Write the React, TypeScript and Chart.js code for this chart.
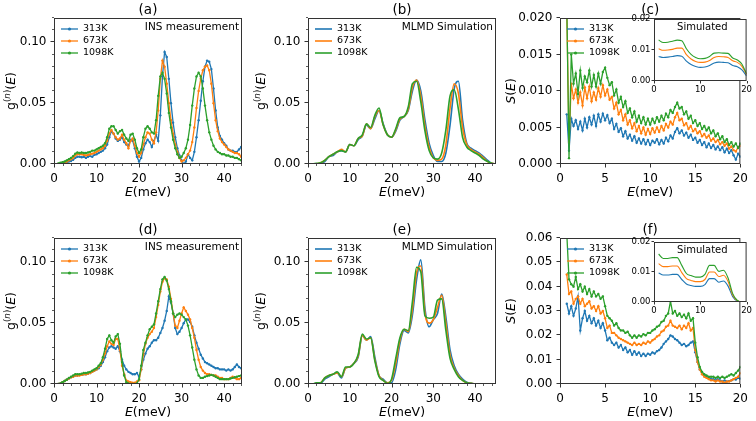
import React, { useEffect, useRef } from 'react';
import { Chart, registerables } from 'chart.js';
Chart.register(...registerables);

const W = 756, H = 421;
const FONT = '"DejaVu Sans", sans-serif';
const COLORS = ['#1f77b4', '#ff7f0e', '#2ca02c'];
const TEMPS = ['313K', '673K', '1098K'];

// energy grids (meV)
const gridINS = Array.from({ length: 88 }, (_, i) => 1 + 0.5 * i);
const gridSim = Array.from({ length: 46 }, (_, i) => i);
const gridSE = Array.from({ length: 78 }, (_, i) => 0.75 + 0.25 * i);
const gridInset = Array.from({ length: 20 }, (_, i) => 1 + i);

// tick values
const gTicksX = [0, 10, 20, 30, 40];
const gTicksY = [0, 0.05, 0.1];
const sTicksX = [0, 5, 10, 15, 20];
const sTicksYc = [0, 0.005, 0.01, 0.015, 0.02];
const sTicksYf = [0, 0.01, 0.02, 0.03, 0.04, 0.05, 0.06];
const insetTicksX = [0, 10, 20];
const insetTicksY = [0, 0.01, 0.02];

// ---- (a) INS measurement, values x1e-3, E = 1..44.5 step 0.5
const a313 = [0,0,0.5,1,1.5,2,2.5,3.5,5,6, 6,5.5,6,5,6,6.5,6,7.5,8,9, 10,11,13,16,22,27,25,21,19,20, 22,18,16,15,20,19,13,6,2,5,
  12,17,20,18,14,19,24,19,40,72, 92,88,70,50,34,22,13,7,3,0, 2,8,5,3,10,22,36,52,68,80, 85,84,78,62,44,30,23,20,17,15, 12,11,11,10,10,12,14,6];
const a673 = [0,0.5,1,1.5,2,3,4,5,7,8, 8,8,7.5,7,7.5,8,8.5,9,10,11, 12,13,15,19,25,28,25,22,20,21, 24,20,17,13,19,21,15,9,6,9,
  16,22,26,25,20,17,26,44,70,85, 80,66,50,36,25,16,10,5,2,3, 5,8,11,18,30,46,60,70,77,80, 81,77,66,50,36,27,21,18,16,14, 12,11,10,9,9,8,6,3];
const a1098 = [0.5,1,1.5,2,3,4,5,6.5,8.5,9.5, 9,9.5,9,9,9.5,10,11,11,12,13, 14,15,17,22,29,31,31,28,25,27, 28,24,21,19,24,25,20,13,9,12,
  22,29,31,29,26,25,36,56,72,75, 70,58,42,30,20,13,8,5,6,9, 13,20,32,48,62,72,75,72,62,48, 36,26,20,15,12,10,9,8,8,7, 7,6,6,5,5,4,3,2];

// ---- (b) MLMD simulation, values x1e-3, E = 0..45 step 1
const b313 = [0,0,0,0.5,2,6,7,10,11,10, 16,15,20,23,32,29,37,44,33,24, 22,27,36,39,44,60,69,60,36,17, 7,2,2,9,32,62,68,36,17,13, 11,9,6,3,0.5,0];
const b673 = [0,0,0,1,3,6,8,10,12,10, 16,15,21,23,33,29,39,44,32,24, 22,28,37,39,45,63,69,56,31,14, 5,3,4,16,46,66,58,30,16,12, 10,8,5,2,0.5,0];
const b1098 = [0,0,0.5,1,3,6,8,10,11,10, 16,15,21,24,33,30,40,46,32,24, 22,29,38,39,47,66,68,51,27,11, 5,4,9,28,56,61,45,22,14,11, 9,7,4,2,0.5,0];

// ---- (c) S(E), values x1e-3, E = 0.75..20 step 0.25
const c313 = [6.8,
  1.8,6.2,5.2,6.0, 4.8,5.8,4.6,6.2, 5.0,6.4,5.4,6.6, 5.2,6.8,5.8,6.9, 6.0,6.7,5.6,6.2,
  4.8,5.5,4.4,4.9, 3.8,4.5,3.5,4.0, 3.2,3.8,2.9,3.5, 2.8,3.4,2.7,3.3, 2.6,3.2,2.9,3.4,
  2.7,3.3,2.8,3.6, 3.1,3.9,3.5,4.4, 4.9,4.2,4.6,3.9, 4.3,3.6,4.0,3.3, 3.6,2.9,3.3,2.6,
  3.0,2.3,2.8,2.2, 2.6,2.0,2.4,1.9, 2.3,1.6,2.1,1.5, 1.9,1.2,0.6,1.4,
  1.0];
const c673 = [21,
  3.0,11.0,9.0,10.2, 8.4,9.8,8.0,10.5, 9.0,10.6,8.6,9.8, 8.8,10.4,9.2,10.8, 9.4,10.2,8.8,9.2,
  7.6,8.4,6.8,7.4, 6.0,6.8,5.4,6.0, 4.9,5.6,4.5,5.2, 4.2,5.0,4.0,4.8, 4.1,4.9,4.3,5.0,
  4.4,5.2,4.6,5.5, 5.0,5.8,5.4,6.4, 7.0,6.0,6.2,5.3, 5.6,4.8,5.2,4.5, 4.8,4.2,4.5,3.8,
  4.1,3.6,3.9,3.2, 3.5,3.0,3.3,2.7, 3.0,2.5,2.8,2.1, 2.4,1.9,1.7,2.3,
  2.5];
const c1098 = [22,
  0.8,15.0,11.0,12.4, 9.6,12.8,10.4,12.0, 11.2,12.8,10.6,12.2, 10.6,12.4,11.0,12.6, 13.2,11.8,10.8,11.2,
  9.4,10.2,8.4,9.2, 7.8,8.6,7.0,7.6, 6.4,7.2,5.8,6.6, 5.6,6.4,5.4,6.2, 5.4,6.2,5.6,6.4,
  5.8,6.6,6.0,6.9, 6.4,7.4,7.0,7.8, 8.4,7.6,7.8,6.8, 7.2,6.2,6.6,5.6, 6.0,5.2,5.6,4.8,
  5.2,4.6,5.0,4.2, 4.6,3.8,4.2,3.4, 3.8,3.0,3.4,2.6, 3.0,2.4,2.8,2.2,
  2.8];
// (c) inset, simulated, values x1e-3, E = 1..20
const ci313 = [7.9,7.6,7.7,7.9,8.2,8.0,6.4,5.3,4.7,4.4, 4.5,5.0,5.8,6.1,6.0,5.9,5.0,4.6,3.6,1.6];
const ci673 = [10.4,9.9,10.0,10.2,10.6,10.6,8.5,7.1,6.3,6.0, 6.1,6.6,7.6,7.9,7.8,7.6,6.5,6.0,4.7,2.0];
const ci1098 = [13.2,12.4,12.5,12.8,13.2,13.0,10.4,8.6,7.6,7.2, 7.3,7.9,9.0,9.1,9.0,8.9,7.4,6.8,5.4,2.3];

// ---- (d) INS measurement, values x1e-3, E = 1..44.5 step 0.5
const d313 = [0,0.5,1.5,2.5,3.5,4.5,5.5,6,7,7, 7.5,7.5,8,8,8.5,9,10,11,12,13, 15,18,22,27,30,31,30,29,31,27, 20,15,12,10,9,8,8,9,6,12,
  20,25,29,31,34,36,36,38,42,46, 52,60,72,67,58,46,41,43,46,50, 53,53,51,47,40,34,29,24,21,18, 17,16,15,14,13,13,12,12,12,11, 12,11,12,14,16,14,13,12];
const d673 = [0,0.5,1.5,2.5,3.5,4.5,5.5,6,7,7, 7,7.5,8,8,8.5,9,10,11,12,14, 16,20,25,31,35,33,32,37,37,28, 15,8,3,2,1.5,1,1,2,3,12,
  24,33,38,41,43,46,55,65,76,84, 87,86,80,70,58,48,46,52,58,63, 60,57,53,46,38,28,20,14,11,9, 8,8,7.5,7,7,6,5,5,4,4, 4,5,6,5,4,4,5,6];
const d1098 = [0,0.5,1.5,2.5,3.5,5,6,7,8,8, 8,8.5,9,9,9.5,10,11,12,13,15, 17,22,29,37,40,36,34,39,41,33, 18,7,1.5,0.5,0,0,0,0.5,4,15,
  28,34,40,45,47,49,58,68,78,86, 88,85,78,68,58,55,57,58,57,55, 53,48,40,30,20,12,7,5,5,6, 6.5,7,7.5,7,6,5,4,4,4,4, 4,4.5,5,5.5,6,6.5,7,6];

// ---- (e) MLMD simulation, values x1e-3, E = 0..45 step 1
const e313 = [0,0,0.5,0.5,4,6,8,9,5,13, 14,17,22,40,36,39,22,7,4,1, 1,12,33,44,42,57,86,102,62,47, 53,58,74,55,28,15,8,4,1.5,0.5, 0,0,0,0,0,0];
const e673 = [0,0,0.5,1,5,7,8,9,6,13, 14,17,23,40,36,38,20,7,3,1, 3,17,36,45,43,62,92,97,58,50, 53,63,73,50,24,13,7,3,1,0.5, 0,0,0,0,0,0];
const e1098 = [0,0,1,1,5,7,8,10,6,14, 14,17,24,41,37,38,19,6,3,0.5, 4,21,38,45,44,68,96,92,56,54, 55,69,70,44,21,12,6,3,1,0.5, 0,0,0,0,0,0];

// ---- (f) S(E), values x1e-3, E = 0.75..20 step 0.25
const f313 = [33,
  29,32,28,31, 36,22,27,30, 26,28,25,27, 24,26,23,25, 22,18,19,17,
  16,17,15,16, 14,15,13,14, 12,13.5,12,13, 11.5,12.5,11.5,12.5, 12,13,12.5,13.5,
  14,15,16.5,17.5, 18.5,20,19.5,18.5, 18,17,16,16.5, 15.5,16,17,17.5, 13,9,6,4.5,
  3.5,3,2.5,2, 2,1.5,2,1.5, 1,1.5,1,1.2, 1.5,2,1.8,2.5,
  2.2];
const f673 = [45,
  37,38,33,35, 36,33,35,32, 33,34,31,32, 30,32,29,30, 27,23,24,21,
  21,20,19,18.5, 18,17.5,17,16.5, 16,17,16,16.5, 16,17,16.5,17.5, 17,18,18.5,19.5,
  20,21.5,22,23.5, 24,26,24,23.5, 23,24,22.5,24, 23,25,22,23, 14,9,6,4,
  3,2.5,2,1.5, 1.5,1,1.5,1, 1,0.5,1,1, 1.5,2,2.5,3,
  4.5];
const f1098 = [62,
  43,41,40,44, 39,41,38,40, 37,39,36,38, 36,37,35,36, 32,28,27,26,
  24,25,23,22, 22,21,21.5,20, 19,20,19,20, 19.5,20.5,20,21, 21,22,22.5,23.5,
  24,25.5,26,28, 29,34,29,30, 28,29,27.5,28.5, 27,29,26,27, 17,11,7,5,
  4,3.5,3,3, 3,2.5,3,2.5, 3,2.5,3,3.5, 4,3.5,4.5,5.5,
  7];
// (f) inset, simulated, values x1e-3, E = 1..20
const fi313 = [9.7,9.0,9.0,9.2,9.2,7.5,6.0,5.5,5.2,5.2, 5.8,7.8,7.8,6.6,7.0,5.3,1.8,0.3,0,0];
const fi673 = [12.8,11.8,11.8,12.0,12.0,9.8,7.8,7.2,6.8,6.8, 7.5,10.0,10.0,8.5,8.9,6.8,2.3,0.4,0,0];
const fi1098 = [16.0,14.5,14.5,14.8,14.8,12.2,9.5,8.8,8.3,8.3, 9.2,12.2,12.2,10.2,10.6,8.0,2.8,0.5,0,0];

type Seg = { t: string; it?: boolean; sup?: boolean };
const G_LABEL: Seg[] = [{ t: 'g' }, { t: '(', sup: true }, { t: 'n', sup: true, it: true }, { t: ')', sup: true }, { t: '(' }, { t: 'E', it: true }, { t: ')' }];
const S_LABEL: Seg[] = [{ t: 'S', it: true }, { t: '(' }, { t: 'E', it: true }, { t: ')' }];
const X_LABEL: Seg[] = [{ t: 'E', it: true }, { t: '(meV)' }];

interface Cfg {
  area: number[]; x: number[]; y: number[]; xTicks: number[]; yTicks: number[]; yDec: number;
  xMinor?: number; yMinor?: number; xs: number[]; ys: number[][]; markers: boolean; smooth: boolean; lw: number;
  title?: string; note?: string; yLabel?: Seg[]; yLabelX?: number; legend: boolean; inset?: boolean; insetNote?: string;
}

const ALL: Cfg[] = [
  { area: [54, 18, 242, 164], x: [0, 44.2], y: [0, 0.12], xTicks: gTicksX, yTicks: gTicksY, yDec: 2, xMinor: 2, yMinor: 0.01,
    xs: gridINS, ys: [a313, a673, a1098], markers: true, smooth: false, lw: 1.3, title: '(a)', note: 'INS measurement', yLabel: G_LABEL, yLabelX: 12, legend: true },
  { area: [308, 18, 496, 164], x: [0, 45], y: [0, 0.12], xTicks: gTicksX, yTicks: gTicksY, yDec: 2, xMinor: 2, yMinor: 0.01,
    xs: gridSim, ys: [b313, b673, b1098], markers: false, smooth: true, lw: 1.6, title: '(b)', note: 'MLMD Simulation', yLabel: G_LABEL, yLabelX: 262, legend: true },
  { area: [560, 18, 748, 164], x: [0, 20], y: [0, 0.02], xTicks: sTicksX, yTicks: sTicksYc, yDec: 3,
    xs: gridSE, ys: [c313, c673, c1098], markers: true, smooth: false, lw: 1.3, title: '(c)', yLabel: S_LABEL, yLabelX: 512, legend: true },
  { area: [54, 238, 242, 384], x: [0, 44.2], y: [0, 0.12], xTicks: gTicksX, yTicks: gTicksY, yDec: 2, xMinor: 2, yMinor: 0.01,
    xs: gridINS, ys: [d313, d673, d1098], markers: true, smooth: false, lw: 1.3, title: '(d)', note: 'INS measurement', yLabel: G_LABEL, yLabelX: 12, legend: true },
  { area: [308, 238, 496, 384], x: [0, 45], y: [0, 0.12], xTicks: gTicksX, yTicks: gTicksY, yDec: 2, xMinor: 2, yMinor: 0.01,
    xs: gridSim, ys: [e313, e673, e1098], markers: false, smooth: true, lw: 1.6, title: '(e)', note: 'MLMD Simulation', yLabel: G_LABEL, yLabelX: 262, legend: true },
  { area: [560, 238, 748, 384], x: [0, 20], y: [0, 0.06], xTicks: sTicksX, yTicks: sTicksYf, yDec: 2,
    xs: gridSE, ys: [f313, f673, f1098], markers: true, smooth: false, lw: 1.3, title: '(f)', yLabel: S_LABEL, yLabelX: 512, legend: true },
  { area: [654, 19, 747, 81], x: [0, 20], y: [0, 0.02], xTicks: insetTicksX, yTicks: insetTicksY, yDec: 2,
    xs: gridInset, ys: [ci313, ci673, ci1098], markers: false, smooth: true, lw: 1.1, legend: false, inset: true, insetNote: 'Simulated' },
  { area: [654, 242, 747, 302], x: [0, 20], y: [0, 0.02], xTicks: insetTicksX, yTicks: insetTicksY, yDec: 2,
    xs: gridInset, ys: [fi313, fi673, fi1098], markers: false, smooth: true, lw: 1.1, legend: false, inset: true, insetNote: 'Simulated' },
];

const fnt = (size: number, it?: boolean) => `${it ? 'italic ' : ''}${size}px ${FONT}`;

function drawRich(ctx: CanvasRenderingContext2D, segs: Seg[], x: number, y: number, size: number, rotate: boolean) {
  ctx.save();
  ctx.translate(x, y);
  if (rotate) ctx.rotate(-Math.PI / 2);
  const sz = (s: Seg) => (s.sup ? size * 0.7 : size);
  const widths = segs.map((s) => { ctx.font = fnt(sz(s), s.it); return ctx.measureText(s.t).width; });
  const total = widths.reduce((p, q) => p + q, 0);
  let cx = -total / 2;
  ctx.textBaseline = 'middle';
  ctx.textAlign = 'left';
  ctx.fillStyle = '#000';
  segs.forEach((s, i) => {
    ctx.font = fnt(sz(s), s.it);
    ctx.fillText(s.t, cx, s.sup ? -size * 0.38 : 0);
    cx += widths[i];
  });
  ctx.restore();
}

function makePlugin(cfg: Cfg) {
  return {
    id: 'decor',
    beforeDatasetsDraw(chart: any) {
      if (!cfg.inset) return;
      const a = chart.chartArea;
      const ctx = chart.ctx;
      ctx.save();
      ctx.fillStyle = '#fff';
      ctx.fillRect(a.left, a.top, a.right - a.left, a.bottom - a.top);
      ctx.restore();
    },
    afterDraw(chart: any) {
      const ctx: CanvasRenderingContext2D = chart.ctx;
      const a = chart.chartArea;
      const xs = chart.scales.x, ys = chart.scales.y;
      ctx.save();
      ctx.strokeStyle = '#333';
      ctx.lineWidth = 1;
      ctx.strokeRect(a.left + 0.5, a.top + 0.5, a.right - a.left - 1, a.bottom - a.top - 1);
      const maj = cfg.inset ? 2.5 : 3.5;
      ctx.beginPath();
      cfg.xTicks.forEach((v) => {
        const p = Math.round(xs.getPixelForValue(v)) + 0.5;
        ctx.moveTo(p, a.bottom); ctx.lineTo(p, a.bottom + maj);
      });
      cfg.yTicks.forEach((v) => {
        const p = Math.round(ys.getPixelForValue(v)) - 0.5;
        ctx.moveTo(a.left, p); ctx.lineTo(a.left - maj, p);
      });
      ctx.stroke();
      ctx.lineWidth = 0.8;
      ctx.beginPath();
      if (cfg.xMinor) {
        for (let v = cfg.x[0]; v <= cfg.x[1] + 1e-9; v += cfg.xMinor) {
          if (cfg.xTicks.some((t) => Math.abs(t - v) < 1e-9)) continue;
          const p = Math.round(xs.getPixelForValue(v)) + 0.5;
          ctx.moveTo(p, a.bottom); ctx.lineTo(p, a.bottom + 2);
        }
      }
      if (cfg.yMinor) {
        for (let v = cfg.y[0]; v <= cfg.y[1] + 1e-9; v += cfg.yMinor) {
          if (cfg.yTicks.some((t) => Math.abs(t - v) < 1e-9)) continue;
          const p = Math.round(ys.getPixelForValue(v)) - 0.5;
          ctx.moveTo(a.left, p); ctx.lineTo(a.left - 2, p);
        }
      }
      ctx.stroke();

      const cxm = (a.left + a.right) / 2;
      if (cfg.title) {
        ctx.fillStyle = '#000'; ctx.font = fnt(13.5); ctx.textAlign = 'center'; ctx.textBaseline = 'middle';
        ctx.fillText(cfg.title, cxm, a.top - 8);
      }
      if (!cfg.inset) {
        drawRich(ctx, X_LABEL, cxm, a.bottom + 29, 12.5, false);
        if (cfg.yLabel) drawRich(ctx, cfg.yLabel, cfg.yLabelX!, (a.top + a.bottom) / 2, 12.5, true);
      }
      if (cfg.note) {
        ctx.fillStyle = '#000'; ctx.font = fnt(10.5); ctx.textAlign = 'right'; ctx.textBaseline = 'middle';
        ctx.fillText(cfg.note, a.right - 3, a.top + 9);
      }
      if (cfg.insetNote) {
        ctx.fillStyle = '#000'; ctx.font = fnt(10); ctx.textAlign = 'center'; ctx.textBaseline = 'middle';
        ctx.fillText(cfg.insetNote, cxm + 2, a.top + 8);
      }
      if (cfg.legend) {
        TEMPS.forEach((t, i) => {
          const y = a.top + 11 + 12 * i;
          ctx.strokeStyle = COLORS[i]; ctx.lineWidth = cfg.lw;
          ctx.beginPath(); ctx.moveTo(a.left + 7, y); ctx.lineTo(a.left + 24, y); ctx.stroke();
          if (cfg.markers) {
            ctx.fillStyle = COLORS[i];
            ctx.beginPath(); ctx.arc(a.left + 15.5, y, 1.6, 0, Math.PI * 2); ctx.fill();
          }
          ctx.fillStyle = '#000'; ctx.font = fnt(9.5); ctx.textAlign = 'left'; ctx.textBaseline = 'middle';
          ctx.fillText(t, a.left + 29, y);
        });
      }
      ctx.restore();
    },
  };
}

function makeChart(canvas: HTMLCanvasElement, cfg: Cfg) {
  const [l, t, r, b] = cfg.area;
  const xH = 40;
  const tickSize = cfg.inset ? 8.5 : 12;
  const datasets = cfg.ys.map((vals, i) => ({
    label: TEMPS[i],
    data: vals.map((v, j) => ({ x: cfg.xs[j], y: v * 1e-3 })),
    borderColor: COLORS[i],
    backgroundColor: COLORS[i],
    borderWidth: cfg.lw,
    pointRadius: cfg.markers ? 1.2 : 0,
    pointBorderWidth: 0,
    pointHoverRadius: 0,
    pointHitRadius: 0,
    tension: cfg.smooth ? 0.4 : 0,
    cubicInterpolationMode: cfg.smooth ? 'monotone' : 'default',
    fill: false,
    order: 2 - i,
  }));
  return new Chart(canvas, {
    type: 'line',
    data: { datasets } as any,
    plugins: [makePlugin(cfg) as any],
    options: {
      animation: false,
      responsive: false,
      devicePixelRatio: 1,
      events: [],
      layout: { padding: { left: 0, top: t, right: W - r, bottom: H - b - xH } },
      plugins: { legend: { display: false }, tooltip: { enabled: false }, title: { display: false } },
      scales: {
        x: {
          type: 'linear', position: 'bottom', min: cfg.x[0], max: cfg.x[1],
          grid: { display: false, drawTicks: false }, border: { display: false },
          ticks: {
            color: '#000', font: { family: FONT, size: tickSize }, padding: cfg.inset ? 4 : 8,
            maxRotation: 0, autoSkip: false, callback: (v: any) => String(v),
          },
          afterBuildTicks: (s: any) => { s.ticks = cfg.xTicks.map((v) => ({ value: v })); },
          afterFit: (s: any) => { s.height = xH; },
        },
        y: {
          type: 'linear', position: 'left', min: cfg.y[0], max: cfg.y[1],
          grid: { display: false, drawTicks: false }, border: { display: false },
          ticks: {
            color: '#000', font: { family: FONT, size: tickSize }, padding: cfg.inset ? 3.5 : 7.5,
            autoSkip: false, callback: (v: any) => Number(v).toFixed(cfg.yDec),
          },
          afterBuildTicks: (s: any) => { s.ticks = cfg.yTicks.map((v) => ({ value: v })); },
          afterFit: (s: any) => { s.width = l; },
        },
      },
    } as any,
  });
}

export default function App() {
  const refs = useRef<(HTMLCanvasElement | null)[]>([]);
  useEffect(() => {
    const charts = ALL.map((cfg, i) => makeChart(refs.current[i]!, cfg));
    return () => charts.forEach((c) => c.destroy());
  }, []);
  return (
    <div style={{ position: 'absolute', left: 0, top: 0, width: W, height: H, background: '#fff' }}>
      {ALL.map((_, i) => (
        <canvas
          key={i}
          ref={(el) => { refs.current[i] = el; }}
          width={W}
          height={H}
          style={{ position: 'absolute', left: 0, top: 0, width: W, height: H }}
        />
      ))}
    </div>
  );
}
